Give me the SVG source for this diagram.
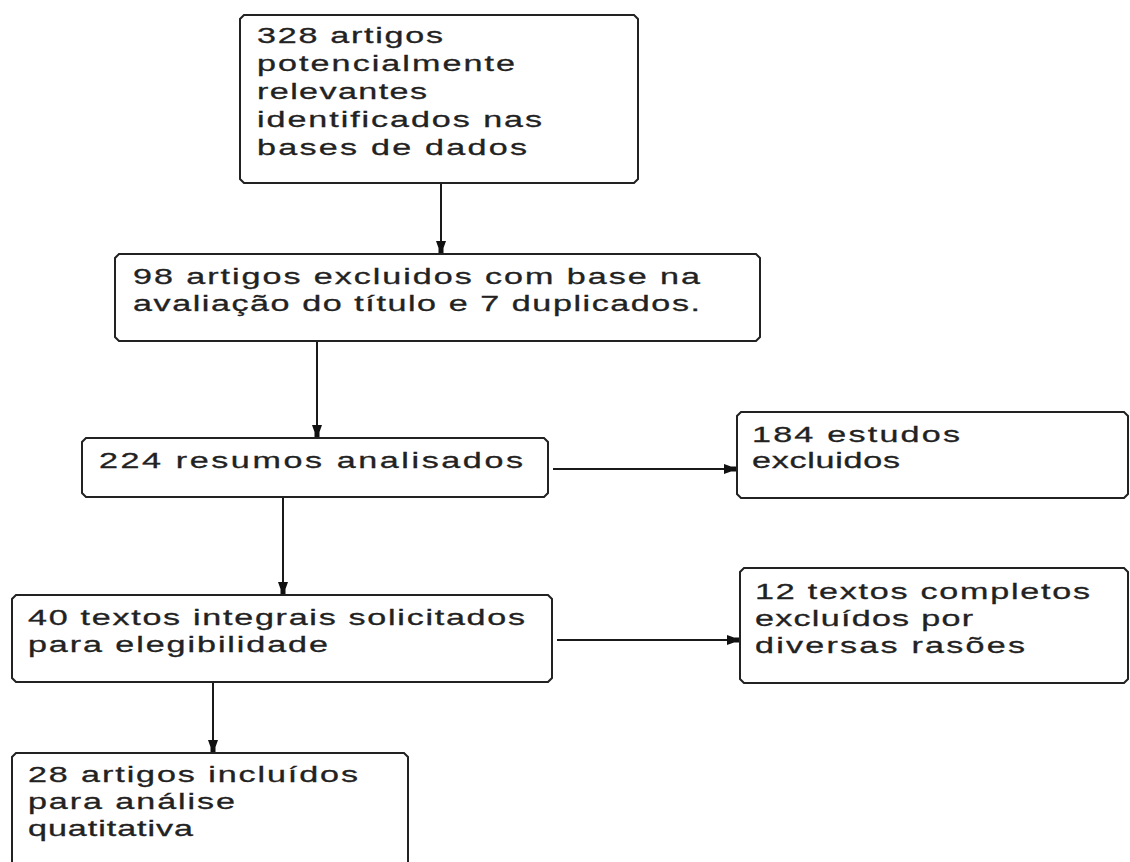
<svg xmlns="http://www.w3.org/2000/svg" width="1130" height="862" viewBox="0 0 1130 862">
<style>
.box{fill:#fff;stroke:#222;stroke-width:2}
.t{font-family:"Liberation Sans",Arial,sans-serif;font-size:22px;fill:#222;stroke:#222;stroke-width:0.3}
.c{fill:none;stroke:#1a1a1a;stroke-width:2}
</style>
<defs>
<marker id="ah" markerUnits="userSpaceOnUse" markerWidth="16" markerHeight="14" viewBox="-14 -7 15 14" refX="0" refY="0" orient="auto">
<path d="M0,-2.5 L-5,-2.5 L-12,-5 L-12,5 L-5,2.5 L0,2.5 Z" fill="#111"/>
</marker>
</defs>
<rect width="1130" height="862" fill="#fff"/>
<g id="connectors">
<path class="c" d="M441,183 V253" marker-end="url(#ah)"/>
<path class="c" d="M317,341 V437" marker-end="url(#ah)"/>
<path class="c" d="M283,497 V594" marker-end="url(#ah)"/>
<path class="c" d="M213,682 V752" marker-end="url(#ah)"/>
<path class="c" d="M553,469 H736" marker-end="url(#ah)"/>
<path class="c" d="M557,640 H739" marker-end="url(#ah)"/>
</g>
<g id="n1">
<path class="box" d="M244,15 H634 L638,19 V179 L634,183 H244 L240,179 V19 Z"/>
<g transform="scale(1.55,1)" class="t">
<text x="165.81" y="43" textLength="120" lengthAdjust="spacing">328 artigos</text>
<text x="165.81" y="71" textLength="166.45" lengthAdjust="spacing">potencialmente</text>
<text x="165.81" y="99" textLength="109.68" lengthAdjust="spacing">relevantes</text>
<text x="165.81" y="127" textLength="183.87" lengthAdjust="spacing">identificados nas</text>
<text x="165.81" y="155" textLength="174.19" lengthAdjust="spacing">bases de dados</text>
</g>
</g>
<g id="n2">
<path class="box" d="M119,254 H756 L760,258 V337 L756,341 H119 L115,337 V258 Z"/>
<g transform="scale(1.55,1)" class="t">
<text x="85.81" y="284" textLength="365.81" lengthAdjust="spacing">98 artigos excluidos com base na</text>
<text x="85.81" y="311" textLength="365.81" lengthAdjust="spacing">avaliação do título e 7 duplicados.</text>
</g>
</g>
<g id="n3">
<path class="box" d="M86,438 H544 L548,442 V493 L544,497 H86 L82,493 V442 Z"/>
<g transform="scale(1.55,1)" class="t">
<text x="63.87" y="468" textLength="273.55" lengthAdjust="spacing">224 resumos analisados</text>
</g>
</g>
<g id="n4">
<path class="box" d="M741,412 H1124 L1128,416 V494 L1124,498 H741 L737,494 V416 Z"/>
<g transform="scale(1.55,1)" class="t">
<text x="485.16" y="442" textLength="134.19" lengthAdjust="spacing">184 estudos</text>
<text x="485.16" y="468" textLength="95.48" lengthAdjust="spacing">excluidos</text>
</g>
</g>
<g id="n5">
<path class="box" d="M16,595 H548 L552,599 V678 L548,682 H16 L12,678 V599 Z"/>
<g transform="scale(1.55,1)" class="t">
<text x="18.06" y="625" textLength="320.65" lengthAdjust="spacing">40 textos integrais solicitados</text>
<text x="18.06" y="652" textLength="193.55" lengthAdjust="spacing">para elegibilidade</text>
</g>
</g>
<g id="n6">
<path class="box" d="M744,568 H1124 L1128,572 V679 L1124,683 H744 L740,679 V572 Z"/>
<g transform="scale(1.55,1)" class="t">
<text x="487.10" y="599" textLength="216.13" lengthAdjust="spacing">12 textos completos</text>
<text x="487.10" y="626" textLength="140.65" lengthAdjust="spacing">excluídos por</text>
<text x="487.10" y="653" textLength="174.19" lengthAdjust="spacing">diversas rasões</text>
</g>
</g>
<g id="n7">
<path class="box" d="M16,753 H404 L408,757 V876 L404,880 H16 L12,876 V757 Z"/>
<g transform="scale(1.55,1)" class="t">
<text x="18.06" y="782" textLength="212.90" lengthAdjust="spacing">28 artigos incluídos</text>
<text x="18.06" y="809" textLength="133.55" lengthAdjust="spacing">para análise</text>
<text x="18.06" y="836" textLength="106.45" lengthAdjust="spacing">quatitativa</text>
</g>
</g>
</svg>
